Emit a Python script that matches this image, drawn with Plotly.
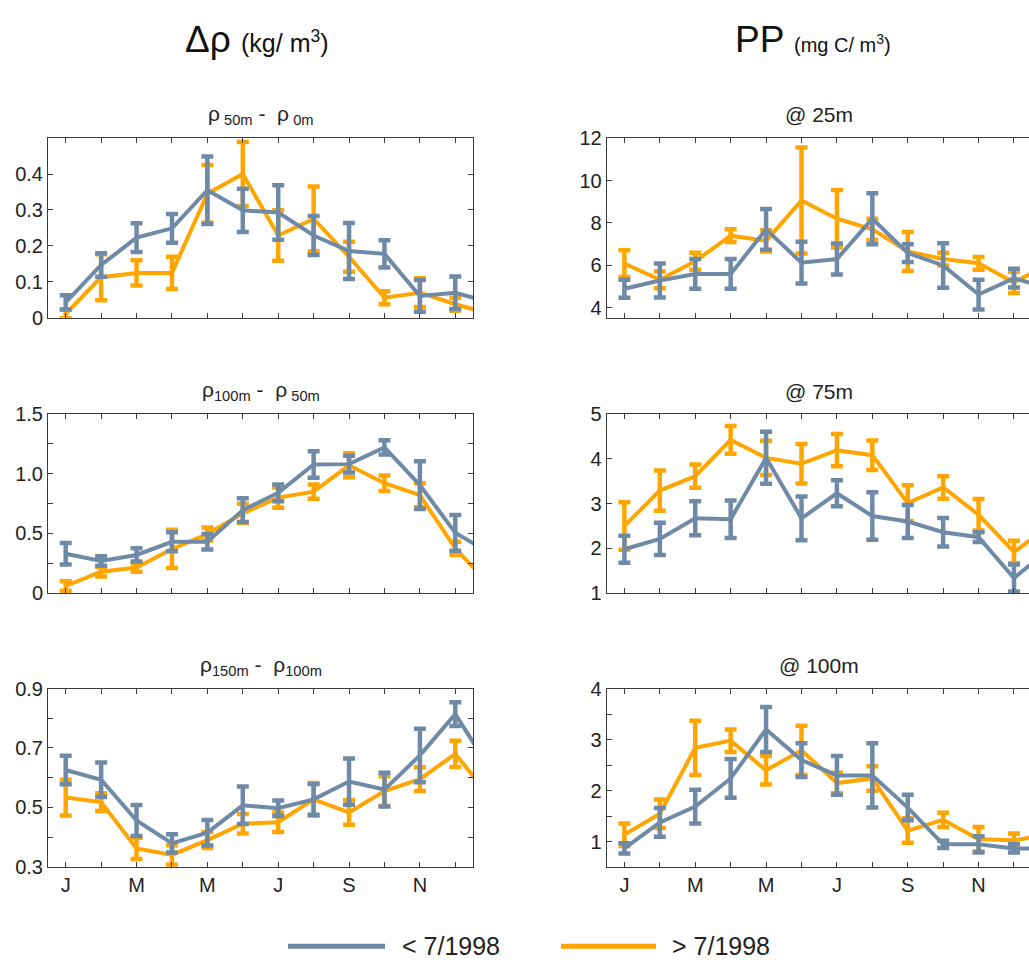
import plotly.graph_objects as go

W, H = 1029, 969
FONT = "Liberation Sans, Arial, sans-serif"
BLUE = "#6f8aa6"
ORANGE = "#ffa500"
FRAME = "#3a3a3a"
TEXT = "#222222"

months = list(range(1, 13))
month_labels = ["J", "", "M", "", "M", "", "J", "", "S", "", "N", ""]

# Δρ, ρ50m − ρ0m (kg/m3)
d1_pre = [0.043, 0.147, 0.223, 0.249, 0.355, 0.299, 0.293, 0.229, 0.186, 0.178, 0.061, 0.070]
d1_pre_err = [0.020, 0.033, 0.040, 0.040, 0.094, 0.060, 0.076, 0.054, 0.078, 0.038, 0.044, 0.045]
d1_post = [0.011, 0.113, 0.125, 0.125, 0.345, 0.400, 0.229, 0.275, 0.170, 0.056, 0.070, 0.038]
d1_post_err = [0.012, 0.064, 0.035, 0.045, 0.080, 0.089, 0.070, 0.090, 0.042, 0.018, 0.040, 0.018]

# Δρ, ρ100m − ρ50m
d2_pre = [0.33, 0.27, 0.32, 0.43, 0.43, 0.695, 0.84, 1.077, 1.08, 1.22, 0.905, 0.505]
d2_pre_err = [0.09, 0.04, 0.055, 0.08, 0.065, 0.10, 0.07, 0.11, 0.07, 0.06, 0.20, 0.15]
d2_post = [0.06, 0.18, 0.215, 0.37, 0.495, 0.668, 0.80, 0.85, 1.07, 0.92, 0.82, 0.375]
d2_post_err = [0.04, 0.04, 0.035, 0.16, 0.055, 0.08, 0.085, 0.06, 0.10, 0.065, 0.10, 0.055]

# Δρ, ρ150m − ρ100m
d3_pre = [0.626, 0.593, 0.456, 0.379, 0.415, 0.507, 0.497, 0.527, 0.587, 0.560, 0.675, 0.814]
d3_pre_err = [0.048, 0.058, 0.052, 0.031, 0.043, 0.063, 0.026, 0.052, 0.078, 0.057, 0.090, 0.040]
d3_post = [0.533, 0.518, 0.362, 0.340, 0.390, 0.445, 0.450, 0.527, 0.483, 0.555, 0.595, 0.680]
d3_post_err = [0.060, 0.030, 0.036, 0.033, 0.027, 0.033, 0.033, 0.055, 0.041, 0.050, 0.040, 0.044]

# PP @ 25m (mg C/m3)
p1_pre = [4.90, 5.29, 5.60, 5.60, 7.70, 6.13, 6.30, 8.20, 6.58, 6.00, 4.63, 5.40]
p1_pre_err = [0.42, 0.80, 0.70, 0.70, 0.96, 0.98, 0.73, 1.20, 0.42, 1.05, 0.70, 0.44]
p1_post = [6.09, 5.32, 6.20, 7.40, 7.16, 9.06, 8.20, 7.70, 6.66, 6.30, 6.10, 5.20]
p1_post_err = [0.63, 0.40, 0.40, 0.30, 0.50, 2.50, 1.35, 0.50, 0.92, 0.30, 0.30, 0.50]

# PP @ 75m
p2_pre = [1.98, 2.21, 2.67, 2.65, 4.02, 2.67, 3.23, 2.72, 2.60, 2.36, 2.25, 1.34]
p2_pre_err = [0.30, 0.36, 0.38, 0.42, 0.58, 0.49, 0.29, 0.53, 0.37, 0.32, 0.11, 0.30]
p2_post = [2.50, 3.29, 3.61, 4.42, 4.02, 3.89, 4.19, 4.08, 3.01, 3.36, 2.75, 1.92]
p2_post_err = [0.53, 0.45, 0.26, 0.31, 0.38, 0.44, 0.36, 0.33, 0.40, 0.25, 0.35, 0.25]

# PP @ 100m
p3_pre = [0.87, 1.38, 1.69, 2.24, 3.20, 2.60, 2.30, 2.30, 1.67, 0.95, 0.95, 0.87]
p3_pre_err = [0.10, 0.28, 0.33, 0.38, 0.44, 0.33, 0.38, 0.63, 0.25, 0.07, 0.16, 0.08]
p3_post = [1.14, 1.55, 2.84, 2.98, 2.40, 2.79, 2.15, 2.24, 1.22, 1.43, 1.05, 1.03]
p3_post_err = [0.22, 0.28, 0.53, 0.22, 0.28, 0.48, 0.20, 0.24, 0.24, 0.14, 0.24, 0.13]

legend_labels = ["< 7/1998", "> 7/1998"]

# panel layout: (row, col, pre, pre_err, post, post_err, y range, tick values, tick labels, title)
panels = [
    (1, 1, d1_pre, d1_pre_err, d1_post, d1_post_err, [0, 0.5],
     [0, 0.1, 0.2, 0.3, 0.4], ["0", "0.1", "0.2", "0.3", "0.4"],
     "ρ<sub> 50m</sub> -  ρ<sub> 0m</sub>"),
    (1, 2, p1_pre, p1_pre_err, p1_post, p1_post_err, [3.53, 12],
     [4, 6, 8, 10, 12], ["4", "6", "8", "10", "12"], "@ 25m"),
    (2, 1, d2_pre, d2_pre_err, d2_post, d2_post_err, [0, 1.5],
     [0, 0.25, 0.5, 0.75, 1.0, 1.25, 1.5], ["0", "", "0.5", "", "1.0", "", "1.5"],
     "ρ<sub>100m</sub> -  ρ<sub> 50m</sub>"),
    (2, 2, p2_pre, p2_pre_err, p2_post, p2_post_err, [1, 5],
     [1, 2, 3, 4, 5], ["1", "2", "3", "4", "5"], "@ 75m"),
    (3, 1, d3_pre, d3_pre_err, d3_post, d3_post_err, [0.3, 0.9],
     [0.3, 0.4, 0.5, 0.6, 0.7, 0.8, 0.9], ["0.3", "", "0.5", "", "0.7", "", "0.9"],
     "ρ<sub>150m</sub> -  ρ<sub>100m</sub>"),
    (3, 2, p3_pre, p3_pre_err, p3_post, p3_post_err, [0.51, 4],
     [1, 1.5, 2, 2.5, 3, 3.5, 4], ["1", "", "2", "", "3", "", "4"], "@ 100m"),
]

# pixel geometry of the frames
col_px = {1: (48, 473), 2: (606.7, W)}
row_px = {1: (130, 314), 2: (412.3, 595.7), 3: (693.3, 875.7)}
px_per_month = (473 - 48) / 12.0
title_y_px = {1: 106, 2: 389, 3: 670}

# December is followed by the next January, so the line runs off the frame edge
cycle_x = months + [13]


def closed(vals):
    return vals + [vals[0]]


fig = go.Figure()
layout = {}

for i, (r, c, pre, pre_err, post, post_err, yr, tv, tt, title) in enumerate(panels):
    n = i + 1
    xa = "x" if n == 1 else f"x{n}"
    ya = "y" if n == 1 else f"y{n}"
    for vals, errs, color in ((post, post_err, ORANGE), (pre, pre_err, BLUE)):
        fig.add_trace(go.Scatter(
            x=cycle_x, y=closed(vals), mode="lines",
            line=dict(color=color, width=4),
            error_y=dict(type="data", array=closed(errs), visible=True,
                         color=color, thickness=4.5, width=6),
            xaxis=xa, yaxis=ya, showlegend=False, hoverinfo="skip"))

    x0, x1 = col_px[c]
    y0, y1 = row_px[r]
    x_hi = 0.5 + (x1 - x0) / px_per_month
    layout["xaxis" if n == 1 else f"xaxis{n}"] = dict(
        domain=[x0 / W, x1 / W], anchor=ya, range=[0.5, x_hi],
        tickvals=months, ticktext=month_labels if r == 3 else [""] * 12,
        showticklabels=(r == 3),
        ticks="inside", ticklen=5, tickwidth=1, tickcolor=FRAME,
        showline=True, linecolor=FRAME, linewidth=1, mirror="ticks",
        showgrid=False, zeroline=False,
        tickfont=dict(family=FONT, size=20, color=TEXT))
    layout["yaxis" if n == 1 else f"yaxis{n}"] = dict(
        domain=[1 - y1 / H, 1 - y0 / H], anchor=xa, range=yr,
        tickvals=tv, ticktext=tt,
        ticks="inside", ticklen=5, tickwidth=1, tickcolor=FRAME,
        showline=True, linecolor=FRAME, linewidth=1,
        mirror="ticks" if c == 1 else False,
        showgrid=False, zeroline=False,
        tickfont=dict(family=FONT, size=20, color=TEXT))

    fig.add_annotation(
        x=(x0 + min(x1, 1031.7)) / 2 / W if c == 1 else 819 / W,
        y=1 - title_y_px[r] / H,
        xref="paper", yref="paper", xanchor="center", yanchor="middle",
        text=title, showarrow=False,
        font=dict(family=FONT, size=21, color=TEXT))

# column headers
fig.add_annotation(
    x=257 / W, y=1 - 29 / H, xref="paper", yref="paper",
    xanchor="center", yanchor="middle", showarrow=False,
    text='Δρ <span style="font-size:25px">(kg/ m<sup>3</sup>)</span>',
    font=dict(family=FONT, size=37, color="#111111"))
fig.add_annotation(
    x=813 / W, y=1 - 29 / H, xref="paper", yref="paper",
    xanchor="center", yanchor="middle", showarrow=False,
    text='PP <span style="font-size:20px">(mg C/ m<sup>3</sup>)</span>',
    font=dict(family=FONT, size=37, color="#111111"))

# legend drawn as line samples with labels
legend_y = 1 - 957 / H
for (lx0, lx1, tx), color, label in zip(((288, 385, 400), (561, 656, 670)),
                                        (BLUE, ORANGE), legend_labels):
    fig.add_shape(type="line", xref="paper", yref="paper",
                  x0=lx0 / W, x1=lx1 / W, y0=legend_y, y1=legend_y,
                  line=dict(color=color, width=5))
    fig.add_annotation(x=tx / W, y=legend_y, xref="paper", yref="paper",
                       xanchor="left", yanchor="middle", showarrow=False,
                       text=label, font=dict(family=FONT, size=25, color=TEXT))

fig.update_layout(
    width=W, height=H,
    margin=dict(l=0, r=0, t=0, b=0),
    paper_bgcolor="white", plot_bgcolor="white",
    showlegend=False,
    **layout)

fig.write_html("out.html")
